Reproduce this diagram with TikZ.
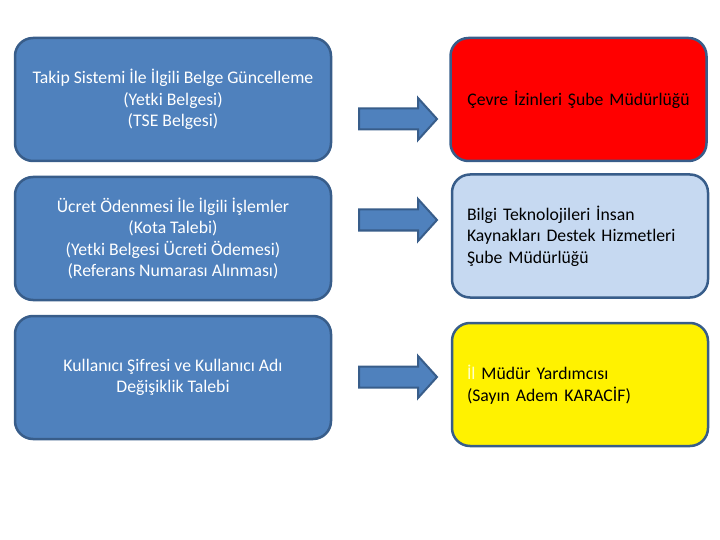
\documentclass[tikz,border=0pt]{standalone}
\usepackage{fontspec}
\setmainfont{Carlito}[Ligatures=NoCommon]
\definecolor{boxblue}{HTML}{4F81BD}
\definecolor{boxline}{HTML}{385D8A}
\definecolor{lightbox}{HTML}{C6D9F1}
\definecolor{paleyellow}{HTML}{FFFFC8}
\tikzset{
  base/.style={draw=boxline, line width=2.5pt, rounded corners=18pt, inner sep=0pt,
    font=\fontsize{17.7}{21.5}\selectfont},
  leftbox/.style={base, fill=boxblue, text=white, align=center,
    minimum width=316pt, minimum height=123pt},
  rightbox/.style={base, text=black, align=left, text width=226pt, inner xsep=15pt,
    minimum height=123pt},
  blockarrow/.style={fill=boxblue, draw=boxline, line width=2pt, line join=miter}
}
\newcommand{\myarrow}[1]{%
  \draw[blockarrow] (359,#1-10.5) -- (418,#1-10.5) -- (418,#1-21) -- (437,#1)
     -- (418,#1+21) -- (418,#1+10.5) -- (359,#1+10.5) -- cycle;}
\begin{document}
\begin{tikzpicture}[x=1pt,y=-1pt]
\useasboundingbox (0,0) rectangle (720,540);
\node[leftbox] (l1) at (173,99.5) {Takip Sistemi İle İlgili Belge Güncelleme\\(Yetki Belgesi)\\(TSE Belgesi)};
\node[leftbox] (l2) at (173,238.5) {Ücret Ödenmesi İle İlgili İşlemler\\(Kota Talebi)\\(Yetki Belgesi Ücreti Ödemesi)\\(Referans Numarası Alınması)};
\node[leftbox] (l3) at (173,377.5) {Kullanıcı Şifresi ve Kullanıcı Adı\\Değişiklik Talebi};
\node[rightbox, fill=red, align=center] (r1) at (578.5,99.5) {Çevre İzinleri Şube Müdürlüğü};
\node[rightbox, fill=lightbox] (r2) at (580,236) {Bilgi Teknolojileri İnsan\\Kaynakları Destek Hizmetleri\\Şube Müdürlüğü};
\node[rightbox, fill=yellow] (r3) at (580,384.5) {\textcolor{paleyellow}{İl} Müdür Yardımcısı\\(Sayın Adem KARACİF)};
\myarrow{119}
\myarrow{220}
\myarrow{377}
\end{tikzpicture}
\end{document}
